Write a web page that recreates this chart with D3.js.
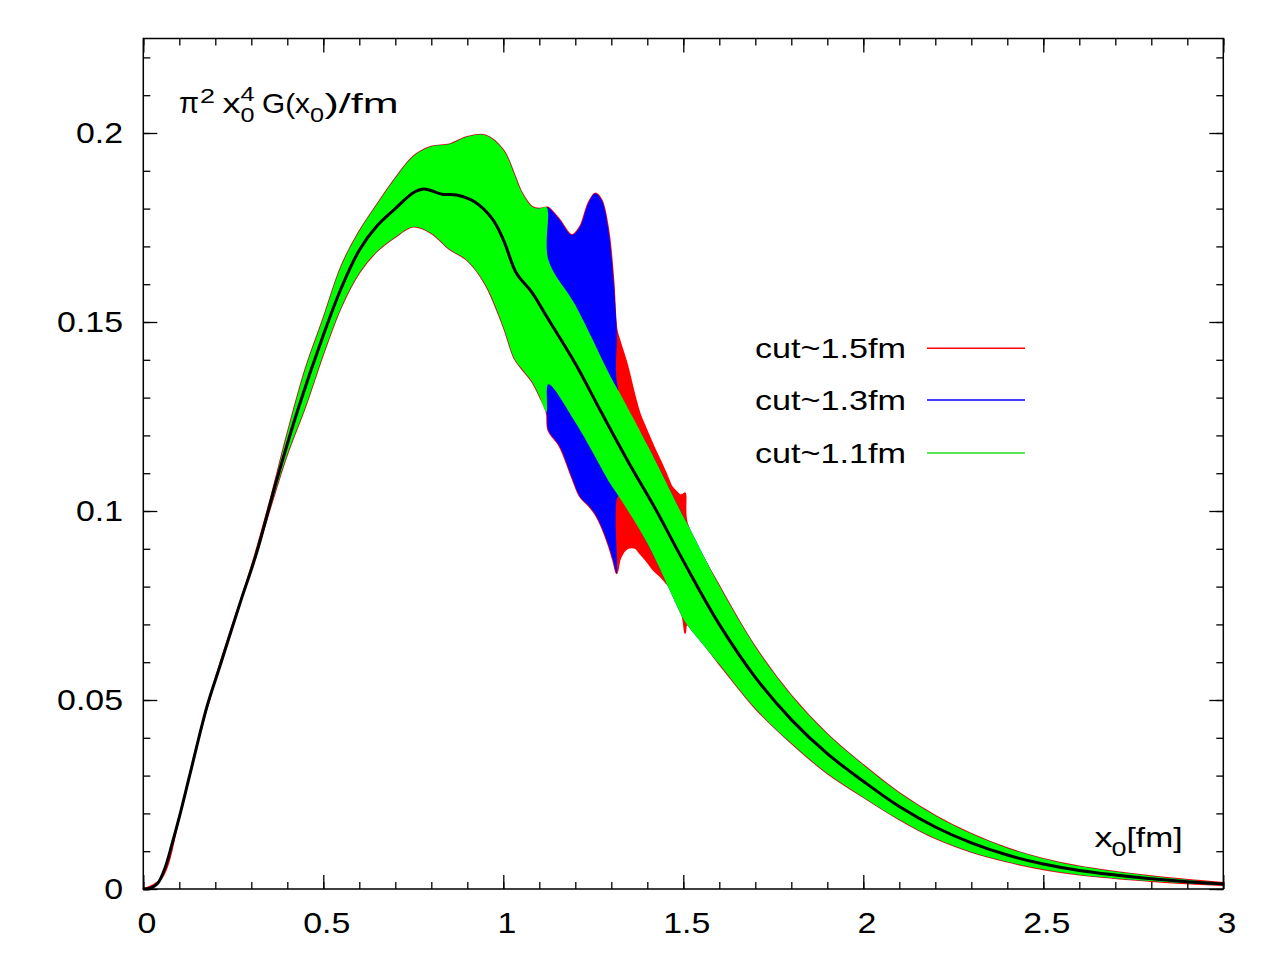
<!DOCTYPE html>
<html>
<head>
<meta charset="utf-8">
<script src="https://cdn.jsdelivr.net/npm/d3@7"></script>
<style>
  body { margin: 0; background: #fff; }
  text { font-family: "Liberation Sans", Arial, Helvetica, sans-serif; fill: #000; }
</style>
</head>
<body>
<div class="canvas"></div>
<script>
// ---- data ----
// reconstructed band, shared by all cuts up to x0 = 1.12 fm
const commonX     = [0, 0.05, 0.1, 0.15, 0.2, 0.25, 0.3, 0.35, 0.4, 0.45, 0.5, 0.55, 0.6, 0.65, 0.7, 0.75, 0.8, 0.85, 0.9, 0.95, 1.0, 1.03, 1.05, 1.08, 1.1, 1.12]
const commonUpper = [0, 0.0028, 0.019, 0.0385, 0.0555, 0.0705, 0.0852, 0.1020, 0.1205, 0.1375, 0.1510, 0.1648, 0.1740, 0.1812, 0.1880, 0.1938, 0.1964, 0.1970, 0.1990, 0.1994, 0.1955, 0.1892, 0.1845, 0.1805, 0.1800, 0.1803]
const commonLower = [0, 0.0028, 0.019, 0.0385, 0.0555, 0.0705, 0.0848, 0.1000, 0.1150, 0.1275, 0.1415, 0.1540, 0.1630, 0.1688, 0.1725, 0.1752, 0.1735, 0.1693, 0.1663, 0.1600, 0.1488, 0.1405, 0.1378, 0.1342, 0.1305, 0.1262]

// cut~1.3fm reconstruction between 1.12 and 1.31 fm
const blueX     = [1.125, 1.157, 1.19, 1.213, 1.236, 1.255, 1.273, 1.292, 1.306, 1.315]
const blueUpper = [0.1803, 0.1770, 0.1730, 0.1752, 0.1814, 0.1840, 0.1823, 0.1743, 0.1611, 0.1479]
const blueLower = [0.1214, 0.1170, 0.1090, 0.1038, 0.1015, 0.0992, 0.0958, 0.0910, 0.0866, 0.0835]

// cut~1.5fm reconstruction between 1.31 and 1.5 fm
const redX     = [1.325, 1.343, 1.366, 1.38, 1.398, 1.417, 1.435, 1.454, 1.468, 1.482, 1.491, 1.5, 1.505]
const redUpper = [0.1445, 0.1390, 0.1302, 0.1255, 0.1214, 0.1172, 0.1135, 0.1095, 0.1064, 0.1050, 0.1042, 0.1044, 0.1047]
const redLower = [0.0875, 0.0900, 0.0902, 0.0888, 0.0868, 0.0844, 0.0828, 0.0808, 0.0792, 0.0773, 0.0750, 0.0712, 0.0677]

// model continuation beyond the cut
const modelX     = [1.125, 1.2, 1.3, 1.32, 1.4, 1.5, 1.51, 1.6, 1.7, 1.8, 1.9, 2.0, 2.1, 2.2, 2.3, 2.4, 2.5, 2.6, 2.8, 3.0]
const modelUpper = [0.1665, 0.1545, 0.1352, 0.1318, 0.1175, 0.0985, 0.0968, 0.0802, 0.0640, 0.0512, 0.0410, 0.0328, 0.0254, 0.0194, 0.0146, 0.0108, 0.0080, 0.0060, 0.0034, 0.0016]
const modelLower = [0.1335, 0.1235, 0.1068, 0.1040, 0.0915, 0.0715, 0.0700, 0.0595, 0.0478, 0.0386, 0.0306, 0.0243, 0.0184, 0.0134, 0.0098, 0.0072, 0.0052, 0.0038, 0.0021, 0.0010]

// central value
const centerX = [0, 0.02, 0.04, 0.06, 0.08, 0.1, 0.13, 0.176, 0.213, 0.269, 0.315, 0.37, 0.43, 0.5, 0.55, 0.6, 0.65, 0.7, 0.75, 0.78, 0.83, 0.87, 0.92, 0.97, 1.0, 1.037, 1.08, 1.12, 1.2, 1.27, 1.35, 1.42, 1.5, 1.6, 1.7, 1.8, 1.9, 2.0, 2.1, 2.2, 2.3, 2.4, 2.5, 2.6, 2.7, 2.8, 2.9, 3.0]
const centerY = [0, 0.0002, 0.0015, 0.0055, 0.012, 0.019, 0.0305, 0.048, 0.059, 0.0757, 0.089, 0.108, 0.127, 0.1465, 0.159, 0.169, 0.1755, 0.180, 0.1842, 0.1852, 0.1838, 0.1836, 0.1818, 0.1772, 0.1718, 0.1628, 0.1578, 0.1515, 0.139, 0.1265, 0.1125, 0.101, 0.0868, 0.0700, 0.0560, 0.0448, 0.0358, 0.0285, 0.0218, 0.0164, 0.0122, 0.0090, 0.0066, 0.0049, 0.0037, 0.0027, 0.0019, 0.0013]

const xTicks = [0, 0.5, 1, 1.5, 2, 2.5, 3]
const xTickLabels = ["0", "0.5", "1", "1.5", "2", "2.5", "3"]
const yTicks = [0, 0.05, 0.1, 0.15, 0.2]
const yTickLabels = ["0", "0.05", "0.1", "0.15", "0.2"]

const legendLabels = ["cut~1.5fm", "cut~1.3fm", "cut~1.1fm"]
const legendColors = ["#ff0000", "#0000ff", "#22dd22"]

// ---- layout ----
const width = 1280
const height = 960
const mLeft = 143.3, mRight = 1223.3, mTop = 38.5, mBottom = 889

const canvas = d3.select(".canvas")
const svg = canvas.append("svg")
    .attr("width", width)
    .attr("height", height)

const x = d3.scaleLinear().domain([0, 3]).range([mLeft, mRight])
const y = d3.scaleLinear().domain([0, 0.225]).range([mBottom, mTop])

function zipBand(xs, up, lo) {
    return xs.map((v, i) => ({ x: v, hi: up[i], lo: lo[i] }))
}
const common = zipBand(commonX, commonUpper, commonLower)
const blueSeg = zipBand(blueX, blueUpper, blueLower)
const redSeg = zipBand(redX, redUpper, redLower)
const model = zipBand(modelX, modelUpper, modelLower)

// each band: data up to its cut, model after it
const bandRed = common.concat(blueSeg, redSeg, model.filter(d => d.x > 1.505))
const bandBlue = common.concat(blueSeg, model.filter(d => d.x > 1.315))
const bandGreen = common.concat(model)

const area = d3.area()
    .x(d => x(d.x))
    .y0(d => y(d.lo))
    .y1(d => y(d.hi))
    .curve(d3.curveCatmullRom.alpha(0.5))

const plot = svg.append("g")

plot.append("path").datum(bandRed)
    .attr("d", area)
    .attr("fill", "#ff0000")
    .attr("stroke", "#ff0000")
    .attr("stroke-width", 1.7)
    .attr("stroke-linejoin", "round")

plot.append("path").datum(bandBlue)
    .attr("d", area)
    .attr("fill", "#0000ff")

plot.append("path").datum(bandGreen)
    .attr("d", area)
    .attr("fill", "#00ff00")

const line = d3.line()
    .x(d => x(d[0]))
    .y(d => y(d[1]))
    .curve(d3.curveCatmullRom.alpha(0.5))

plot.append("path")
    .datum(centerX.map((v, i) => [v, centerY[i]]))
    .attr("d", line)
    .attr("fill", "none")
    .attr("stroke", "#000")
    .attr("stroke-width", 3)
    .attr("stroke-linejoin", "round")

// ---- frame and ticks (inward, on all four sides) ----
function tickAxis(axis, tr, values, size) {
    const g = svg.append("g")
        .attr("transform", tr)
        .call(axis.tickValues(values).tickSize(size).tickFormat(""))
    g.select(".domain").remove()
    g.selectAll("line").attr("stroke", "#000").attr("stroke-width", 1.3)
}
const xMinor = x.ticks(30)
const yMinor = y.ticks(25).filter(v => v <= 0.225)

tickAxis(d3.axisBottom(x), `translate(0,${mBottom})`, xMinor, -7)
tickAxis(d3.axisBottom(x), `translate(0,${mBottom})`, xTicks, -14)
tickAxis(d3.axisTop(x), `translate(0,${mTop})`, xMinor, -7)
tickAxis(d3.axisTop(x), `translate(0,${mTop})`, xTicks, -14)
tickAxis(d3.axisLeft(y), `translate(${mLeft},0)`, yMinor, -7)
tickAxis(d3.axisLeft(y), `translate(${mLeft},0)`, yTicks, -14)
tickAxis(d3.axisRight(y), `translate(${mRight},0)`, yMinor, -7)
tickAxis(d3.axisRight(y), `translate(${mRight},0)`, yTicks, -14)

svg.append("rect")
    .attr("x", mLeft).attr("y", mTop)
    .attr("width", mRight - mLeft).attr("height", mBottom - mTop)
    .attr("fill", "none")
    .attr("stroke", "#000")
    .attr("stroke-width", 1.5)

// ---- tick labels ----
svg.selectAll(".xlab")
    .data(xTicks)
    .enter()
    .append("text")
    .attr("class", "xlab")
    .attr("transform", d => `translate(${x(d) + 3.5},933) scale(1.13,1)`)
    .attr("text-anchor", "middle")
    .attr("font-size", 30)
    .text((d, i) => xTickLabels[i])

svg.selectAll(".ylab")
    .data(yTicks)
    .enter()
    .append("text")
    .attr("class", "ylab")
    .attr("transform", d => `translate(123,${y(d) + 9.5}) scale(1.13,1)`)
    .attr("text-anchor", "end")
    .attr("font-size", 30)
    .text((d, i) => yTickLabels[i])

// ---- axis titles ----
function piece(str, px, py, size, len) {
    const t = svg.append("text")
        .attr("x", px).attr("y", py)
        .attr("font-size", size)
        .text(str)
    if (len) t.attr("textLength", len).attr("lengthAdjust", "spacingAndGlyphs")
    return t
}
// pi^2 x0^4 G(x0)/fm
piece("\u03c0", 179, 113, 30, 20)
piece("2", 200, 102.5, 20, 15)
piece("x", 222.5, 113, 28, 18)
piece("4", 240.5, 101, 20, 14)
piece("0", 240.5, 122, 20, 14)
piece("G(x", 262, 113, 28, 48)
piece("0", 310, 122, 20, 14)
piece(")/fm", 324.5, 113, 28, 74)

// x0[fm]
piece("x", 1094.5, 847, 28, 18)
piece("0", 1111.5, 855.5, 21, 15)
piece("[fm]", 1126.5, 847, 28, 56)

// ---- legend ----
const legendY = [348.3, 400, 453]
const legend = svg.selectAll(".legend")
    .data(legendLabels)
    .enter()
    .append("g")
    .attr("class", "legend")

legend.append("text")
    .attr("x", 755)
    .attr("y", (d, i) => legendY[i] + 9.5)
    .attr("font-size", 28)
    .attr("textLength", 151)
    .attr("lengthAdjust", "spacingAndGlyphs")
    .text(d => d)

legend.append("line")
    .attr("x1", 927).attr("x2", 1025)
    .attr("y1", (d, i) => legendY[i])
    .attr("y2", (d, i) => legendY[i])
    .attr("stroke", (d, i) => legendColors[i])
    .attr("stroke-width", 1.5)
</script>
</body>
</html>
